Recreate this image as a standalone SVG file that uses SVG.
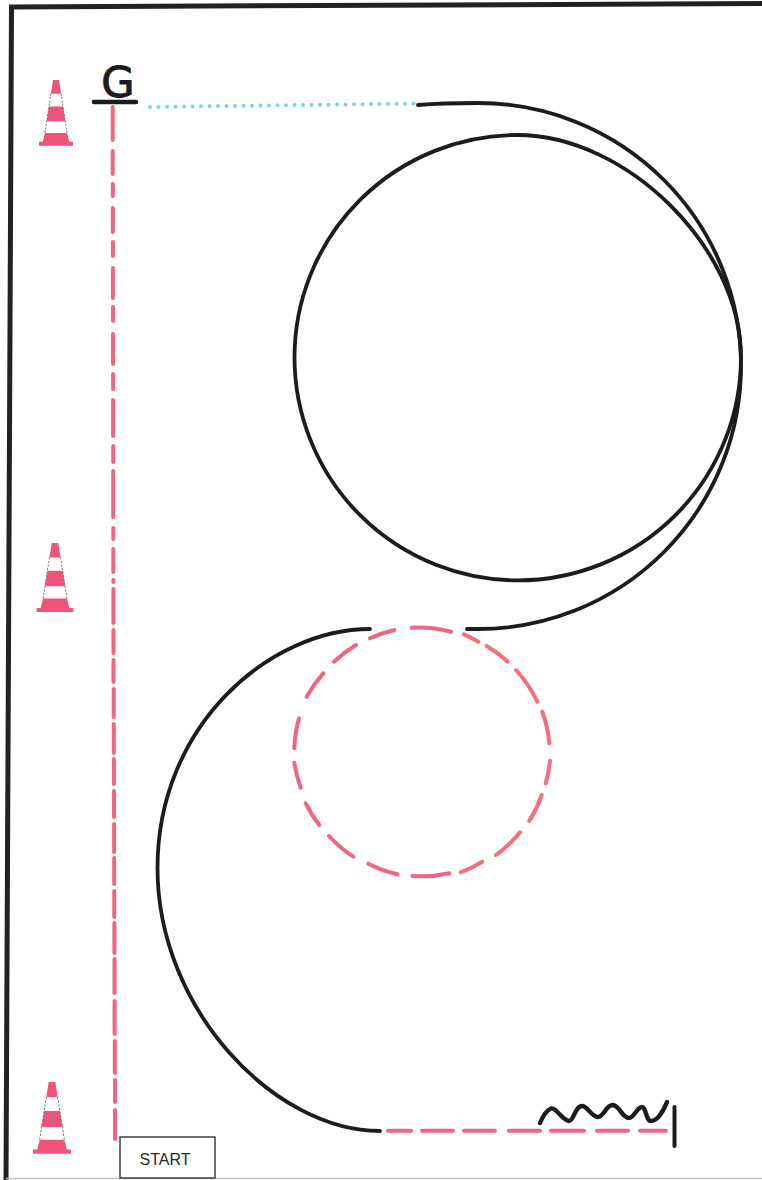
<svg xmlns="http://www.w3.org/2000/svg" width="762" height="1180" viewBox="0 0 762 1180">
<style>
.track{fill:none;stroke:#1c1c1e;stroke-width:3.800;stroke-linecap:round}
.dash{fill:none;stroke:#f0657f;stroke-width:4;stroke-linecap:round}
.warm{stroke:#f3707c}
.pink{fill:#ee5578}
.edge{fill:none;stroke:#6b6b6b;stroke-width:1;stroke-dasharray:2 1.500}
.label{font-family:"Liberation Sans",Arial,sans-serif;font-size:16px;fill:#2a2a2a}
</style>
<defs>
<g id="cone">
<path class="pink" d="M-3.500 0H3.500L6 14H-6Z"/>
<path class="pink" d="M-8.200 27H8.200L11 42H-11Z"/>
<path class="pink" d="M-13 54H13L15.500 63H20V67H-20V63H-15.500Z"/>
<path class="edge" d="M-6 14L-13 54M6 14L13 54"/>
</g>
</defs>
<rect width="762" height="1180" fill="#fff"/>
<g id="frame">
<path d="M762 3.500L11.500 7L6 1180" fill="none" stroke="#222" stroke-width="5"/>
<path d="M6 1178.500H762" fill="none" stroke="#c4c4c4" stroke-width="1.500"/>
</g>
<g id="connectors">
<path class="dash" d="M112.700 107V140M112.700 151V174M112.800 184V196M112.800 208V232M112.900 242V256M112.900 268V298M113 307V321M113 334V364M113.100 374V389M113.100 400V436M113.200 446V462M113.200 471V517M113.300 528V539M113.300 549V572M113.400 580V582M113.400 589V623M113.500 630V653M113.500 660V682M113.700 689V717M113.800 724V753M113.900 759V784M114 791V817M114.100 824V852M114.200 858V884M114.300 891V917M114.400 923V953M114.500 959V993M114.600 1001V1034M114.800 1041V1073M115 1080V1102M115 1110V1139"/>
<path d="M150 107L416 103.500" fill="none" stroke="#7fd2ee" stroke-width="4" stroke-linecap="round" stroke-dasharray="0.100 8.400"/>
<path class="track" d="M418 105C436 103.500 456 103 478 103A263 263 0 0 1 478 629L467 629"/>
<path class="track" d="M517.500 135C626.500 135 741 248 741 357A223 223 0 0 1 294.500 357.500A223 222.500 0 0 1 517.500 135Z"/>
<path class="track" d="M370 629C270 629 157.500 725 157.500 868C157.500 1010 275 1131 380 1131"/>
<path class="dash" d="M411.700 627.700A126 126 0 0 1 451 631.700M300.700 787.700A126 126 0 0 1 294.300 762.700M294.300 748.300A126 126 0 0 1 299 718.300M306.700 696.700A126 126 0 0 1 323.300 673.300M334 661.700A126 126 0 0 1 356 645M370 638.300A126 126 0 0 1 394.300 630M449.300 873.300A126 126 0 0 1 412.300 876M397.300 874.300A126 126 0 0 1 368.300 863.700M353.300 856.700A126 126 0 0 1 329 836M319.300 825A126 126 0 0 1 305.700 803.300"/>
<path class="dash warm" d="M464 634.300A126 126 0 0 1 478.300 641.700M486.700 646A126 126 0 0 1 507.700 661.700M516 670A126 126 0 0 1 537.300 701.700M542.300 711.700A126 126 0 0 1 549.300 743.300M550 760.700A126 126 0 0 1 545.700 783.300M541.700 795A126 126 0 0 1 529.300 821M520 832.300A126 126 0 0 1 496 855M482.300 861.700A126 126 0 0 1 460.700 872.300"/>
<path class="dash" d="M388 1130.700H411M422 1130.700H453M464 1130.700H495M509 1130.700H540M551 1130.700H584M597 1130.700H628M640 1130.700H666"/>
<path class="track" style="stroke-width:4.400" d="M540 1123C543 1116 547 1110 551 1108.500C556 1107 562 1120 569 1121C574 1121 575 1106 582 1106C588 1106 591 1117 598 1117C604 1117 606 1104.500 613 1105C620 1106 622 1118 629 1118C634 1118 637 1107 642 1107C646 1107 646 1121 651 1121C657 1121 663 1112 667 1102"/>
<path class="track" style="stroke-width:4" d="M674.500 1107V1146"/>
</g>
<g id="goal">
<path class="track" style="stroke-width:4.500" d="M94 102H136"/>
<text x="118" y="97" text-anchor="middle" font-family="'DejaVu Sans',sans-serif" font-size="43" fill="#1c1c1e" stroke="#1c1c1e" stroke-width="1">G</text>
</g>
<g id="cone-top"><use href="#cone" transform="translate(56 80) scale(.85 .98)"/></g>
<g id="cone-middle"><use href="#cone" transform="translate(55 543) scale(.92 1.030)"/></g>
<g id="cone-bottom"><use href="#cone" transform="translate(52 1082) scale(.95 1.070)"/></g>
<g id="start">
<rect x="120" y="1137" width="95" height="41" fill="#fff" stroke="#333" stroke-width="1.400"/>
<text class="label" x="165" y="1164.500" text-anchor="middle">START</text>
</g>
</svg>
